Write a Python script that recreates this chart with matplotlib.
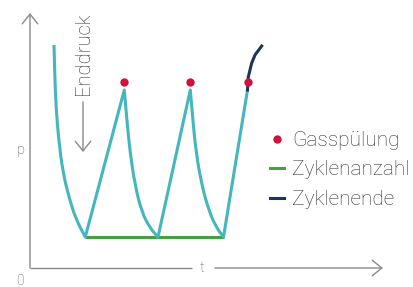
"""
Druckverlauf beim Gasspülen: Abpumpen, Spülzyklen, Zyklenende.
"""

import matplotlib
matplotlib.use("Agg")
import matplotlib.pyplot as plt
from matplotlib.lines import Line2D
from matplotlib.patches import PathPatch
from matplotlib.path import Path

plt.rcParams["font.family"] = ["Roboto", "DejaVu Sans"]

# pressure curve (cyan): t / p in arbitrary units.
# each decay runs from a peak down to the base line, rises are straight
decay1_t = [2.40, 2.47, 2.60, 2.87, 3.30, 3.97, 4.63, 5.53]
decay1_p = [22.3, 19.5, 16.1, 12.8, 9.5, 6.8, 4.8, 3.1]
decay2_t = [9.43, 9.67, 10.0, 10.5, 11.17, 12.0, 12.8]
decay2_p = [17.8, 14.97, 11.6, 8.3, 5.6, 4.0, 3.1]
decay3_t = [16.03, 16.27, 16.6, 17.17, 17.93, 18.67, 19.35]
decay3_p = [17.8, 14.97, 11.6, 8.3, 5.6, 4.0, 3.1]
last_peak = (21.75, 17.8)

# end of cycles (navy)
end_t = [21.75, 21.83, 22.17, 22.5, 23.17]
end_p = [17.8, 19.1, 20.5, 21.3, 22.2]

# gas purge points (red)
purge_t = [9.43, 16.03, 21.8]
purge_p = [18.6, 18.6, 18.6]

# cycle count baseline (green)
cycles_t = [5.53, 19.35]
cycles_p = [3.1, 3.1]

legend_labels = ["Gasspülung", "Zyklenanzahl", "Zyklenende"]

CYAN = "#43b6be"
RED = "#d2103b"
GREEN = "#46a041"
NAVY = "#1b365d"
GREY = "#8a8a8a"
TEXT = "#333333"


def smooth_path(pieces, end):
    """Quadratic curves through the read points of each decay, straight rises."""
    verts, codes = [], []
    for ts, ps in pieces:
        pts = list(zip(ts, ps))
        verts.append(pts[0])
        codes.append(Path.MOVETO if not codes else Path.LINETO)
        for a, b in zip(pts[1:-1], pts[2:]):
            mid = ((a[0] + b[0]) / 2, (a[1] + b[1]) / 2)
            verts += [a, mid]
            codes += [Path.CURVE3, Path.CURVE3]
        verts.append(pts[-1])
        codes.append(Path.LINETO)
    verts.append(end)
    codes.append(Path.LINETO)
    return Path(verts, codes)


fig = plt.figure(figsize=(4.13, 2.87), dpi=100)
ax = fig.add_axes([0, 0, 1, 1])
ax.set_xlim(-3.0, 38.3)
ax.set_ylim(-1.9, 26.8)
ax.axis("off")

# axes with open arrow heads
arrow = dict(arrowstyle="->,head_width=0.4,head_length=0.5", color=GREY,
             lw=1.0, shrinkA=0, shrinkB=0, mutation_scale=14)
ax.annotate("", xy=(0, 25.5), xytext=(0, 0), arrowprops=arrow)
ax.annotate("", xy=(35.3, 0), xytext=(18.5, 0), arrowprops=arrow)
ax.plot([0, 16.2], [0, 0], color=GREY, lw=1.0, solid_capstyle="butt")
ax.text(17.2, 0, "t", color="#555555", fontsize=10.5, fontweight="light",
        ha="center", va="center")
ax.text(-0.95, 11.8, "p", color="#555555", fontsize=10.5, fontweight="light",
        ha="center", va="center")
ax.text(-1.0, -1.3, "0", color="#555555", fontsize=10, fontweight="light",
        ha="center", va="center")

# Enddruck label with downward arrow
ax.text(5.3, 21.4, "Enddruck", rotation=90, color=TEXT, fontsize=14.5,
        fontweight="light", ha="center", va="center")
ax.annotate("", xy=(5.3, 11.6), xytext=(5.3, 16.6), arrowprops=arrow)

# data
ax.plot(cycles_t, cycles_p, color=GREEN, lw=2.2, solid_capstyle="butt", zorder=2)
pressure = smooth_path([(decay1_t, decay1_p), (decay2_t, decay2_p),
                        (decay3_t, decay3_p)], last_peak)
ax.add_patch(PathPatch(pressure, fill=False, edgecolor=CYAN, lw=2.2,
                       joinstyle="round", zorder=3))
ax.plot(end_t, end_p, color=NAVY, lw=2.2, zorder=3)
ax.plot(purge_t, purge_p, "o", color=RED, ms=6, mew=0, zorder=4)

handles = [
    Line2D([], [], ls="none", marker="o", color=RED, ms=6, mew=0),
    Line2D([], [], color=GREEN, lw=2.2),
    Line2D([], [], color=NAVY, lw=2.2),
]
leg = ax.legend(handles, legend_labels, loc="center left",
                bbox_to_anchor=(24.0, 9.8), bbox_transform=ax.transData,
                frameon=False, borderpad=0, borderaxespad=0,
                handlelength=0.65, handletextpad=0.42, labelspacing=0.5,
                prop=dict(size=15, weight="light"))
for txt in leg.get_texts():
    txt.set_color(TEXT)

fig.savefig("out.png", dpi=100)
